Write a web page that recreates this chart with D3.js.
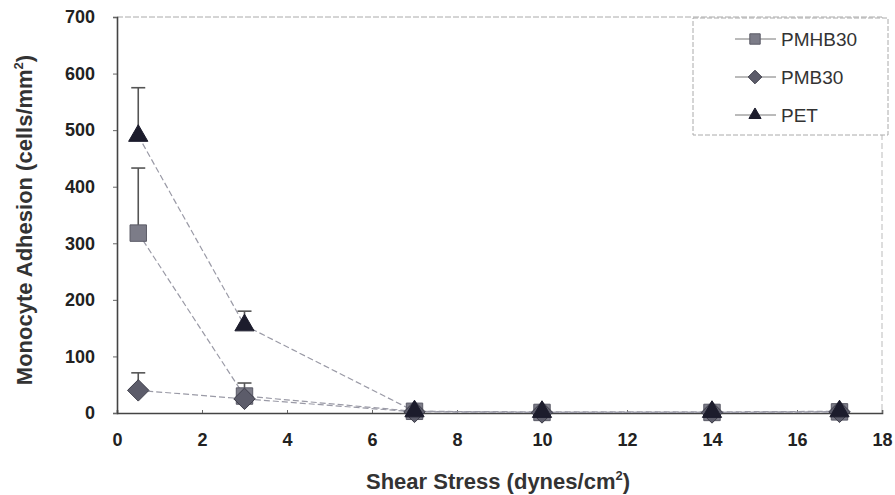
<!DOCTYPE html>
<html><head><meta charset="utf-8">
<script src="https://cdn.jsdelivr.net/npm/d3@7"></script>
<style>body{margin:0;background:#fff}</style>
</head><body>
<svg id="c" width="895" height="495"></svg>
<script>
const shear = [0.5, 3, 7, 10, 14, 17];
const pmhb30 = [318, 30, 3, 1, 1, 2];
const pmhb30Err = [433, 53, null, null, null, null];
const pmb30 = [40, 25, 2, 1, 1, 2];
const pmb30Err = [71, null, null, null, null, null];
const pet = [490, 155, 3, 2, 2, 3];
const petErr = [575, 180, null, null, null, null];
const xTicks = [0, 2, 4, 6, 8, 10, 12, 14, 16, 18];
const yTicks = [0, 100, 200, 300, 400, 500, 600, 700];

const svg = d3.select("#c");
const x = d3.scaleLinear().domain([0, 18]).range([117, 882]);
const y = d3.scaleLinear().domain([0, 700]).range([413, 17]);
const font = "'Liberation Sans', Arial, sans-serif";

// plot frame (top/right light dashed)
svg.append("line").attr("x1", x(0)).attr("x2", x(18)).attr("y1", y(700)).attr("y2", y(700))
  .attr("stroke", "#aaa").attr("stroke-dasharray", "6,2");
svg.append("line").attr("x1", x(18)).attr("x2", x(18)).attr("y1", y(700)).attr("y2", y(0))
  .attr("stroke", "#bbb").attr("stroke-dasharray", "6,3");

// axes
const xAx = svg.append("g").attr("transform", `translate(0,${y(0)})`)
  .call(d3.axisBottom(x).tickValues(xTicks).tickSize(-3).tickPadding(20));
const yAx = svg.append("g").attr("transform", `translate(${x(0)},0)`)
  .call(d3.axisLeft(y).tickValues(yTicks).tickSize(4).tickPadding(18));
[xAx, yAx].forEach(g => {
  g.select(".domain").attr("stroke", "#444").attr("stroke-width", 1.6);
  g.selectAll(".tick line").attr("stroke", "#666");
  g.selectAll("text").attr("font-family", font).attr("font-size", 18).attr("font-weight", "bold").attr("fill", "#222");
});
xAx.selectAll("text").attr("dy", "0.71em");

// axis titles
const xt = svg.append("text").attr("x", 498).attr("y", 489).attr("text-anchor", "middle")
  .attr("font-family", font).attr("font-size", 22).attr("font-weight", "bold").attr("fill", "#333");
xt.append("tspan").text("Shear Stress (dynes/cm");
xt.append("tspan").attr("dy", -9).attr("font-size", 13).text("2");
xt.append("tspan").attr("dy", 9).text(")");

const yt = svg.append("text").attr("transform", "translate(32,220) rotate(-90)").attr("text-anchor", "middle")
  .attr("font-family", font).attr("font-size", 22).attr("font-weight", "bold").attr("fill", "#333");
yt.append("tspan").text("Monocyte Adhesion (cells/mm");
yt.append("tspan").attr("dy", -9).attr("font-size", 13).text("2");
yt.append("tspan").attr("dy", 9).text(")");

const diamond = {draw(ctx, size) { const r = Math.sqrt(size / 2); ctx.moveTo(0, -r); ctx.lineTo(r, 0); ctx.lineTo(0, r); ctx.lineTo(-r, 0); ctx.closePath(); }};

const series = [
  {name: "PMHB30", vals: pmhb30, err: pmhb30Err, sym: d3.symbolSquare, size: 270, fill: "#7c7c88", stroke: "#5a5a66"},
  {name: "PMB30", vals: pmb30, err: pmb30Err, sym: diamond, size: 230, fill: "#5c5c6a", stroke: "#3c3c48"},
  {name: "PET", vals: pet, err: petErr, sym: d3.symbolTriangle, size: 160, fill: "#1c1c2c", stroke: "#1c1c2c"}
];

const line = d3.line().x((d, i) => x(shear[i])).y(d => y(d));

series.forEach(s => {
  svg.append("path").datum(s.vals).attr("d", line).attr("fill", "none")
    .attr("stroke", "#9a9aa6").attr("stroke-width", 1.2).attr("stroke-dasharray", "6,3");
});
series.forEach(s => {
  s.err.forEach((e, i) => {
    if (e == null) return;
    const g = svg.append("g").attr("stroke", "#555").attr("stroke-width", 1.6);
    g.append("line").attr("x1", x(shear[i])).attr("x2", x(shear[i])).attr("y1", y(s.vals[i])).attr("y2", y(e));
    g.append("line").attr("x1", x(shear[i]) - 7).attr("x2", x(shear[i]) + 7).attr("y1", y(e)).attr("y2", y(e));
  });
});
series.forEach(s => {
  svg.append("g").selectAll("path").data(s.vals).join("path")
    .attr("transform", (d, i) => `translate(${x(shear[i])},${y(d)})`)
    .attr("d", d3.symbol().type(s.sym).size(s.size))
    .attr("fill", s.fill).attr("stroke", s.stroke).attr("stroke-width", 1);
});

// legend
const lg = svg.append("g");
lg.append("rect").attr("x", 693).attr("y", 18).attr("width", 195).attr("height", 117)
  .attr("fill", "#fff").attr("stroke", "#aaa").attr("stroke-dasharray", "5,2");
series.forEach((s, k) => {
  const yy = 39 + k * 38;
  lg.append("line").attr("x1", 735).attr("x2", 776).attr("y1", yy).attr("y2", yy)
    .attr("stroke", "#777").attr("stroke-width", 1);
  lg.append("path").attr("transform", `translate(755,${yy})`)
    .attr("d", d3.symbol().type(s.sym).size(s.size * 0.4))
    .attr("fill", s.fill).attr("stroke", s.stroke);
  lg.append("text").attr("x", 781).attr("y", yy).attr("dy", "0.35em")
    .attr("font-family", font).attr("font-size", 19).attr("fill", "#333").text(s.name);
});
</script>
</body></html>
